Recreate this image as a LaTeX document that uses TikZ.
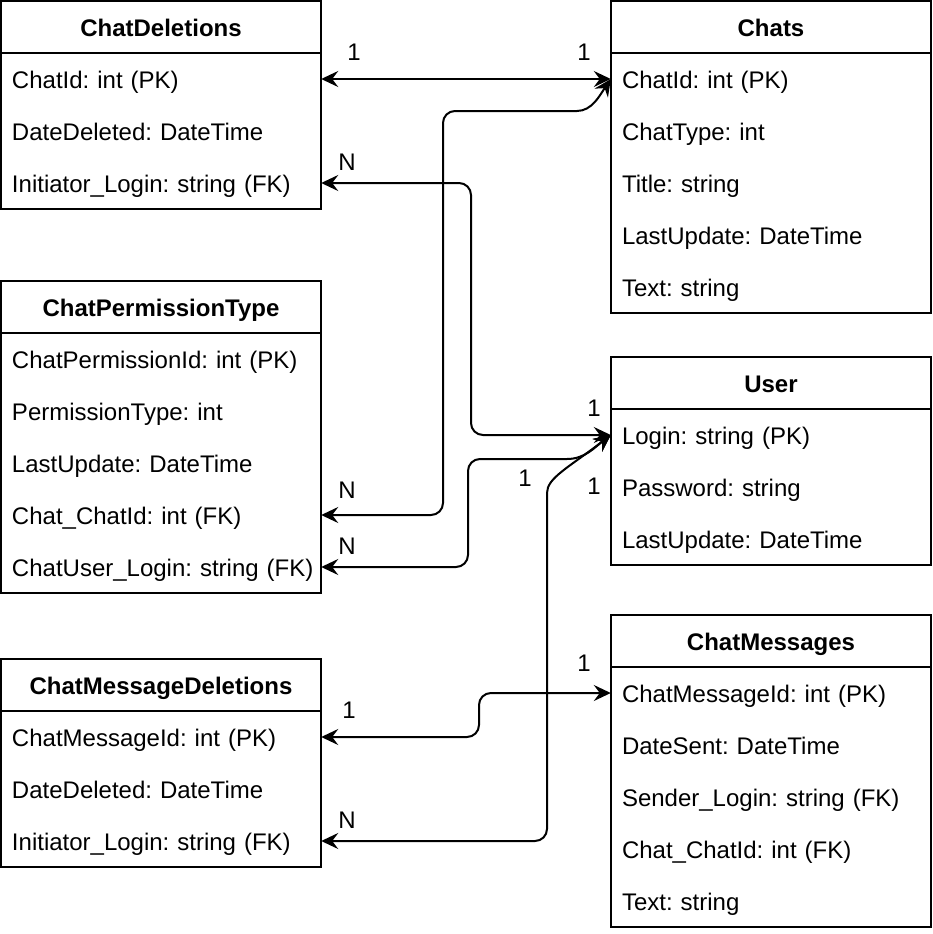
\documentclass[tikz,border=0pt]{standalone}
\usepackage{fontspec}
\setmainfont{Liberation Sans}
\usetikzlibrary{arrows.meta}
\frenchspacing
\begin{document}
\begin{tikzpicture}[x=1pt,y=-1pt,
  tbl/.style={draw, line width=2pt, fill=white},
  sep/.style={line width=2pt},
  hdr/.style={font=\fontsize{24}{28}\selectfont\bfseries, inner sep=0pt, text height=23pt, text depth=4pt},
  fld/.style={font=\fontsize{24}{28}\selectfont, minimum width=320pt, minimum height=52pt, inner xsep=11pt, inner ysep=0pt, text width=298pt, align=left, text height=23pt, text depth=4pt},
  lbl/.style={font=\fontsize{24}{28}\selectfont, inner sep=0pt},
  tip/.tip={Stealth[length=17pt,width=16pt,inset=6pt]},
  conn/.style={line width=2pt, rounded corners=12pt, tip-tip}
]
\useasboundingbox (0,0) rectangle (932,934);

% ChatDeletions
\draw[tbl] (1,1) rectangle (321,209);
\draw[sep] (1,53) -- (321,53);
\node[hdr] (cdh) at (161,27) {ChatDeletions};
\node[fld] (cd1) at (161,79) {ChatId: int (PK)};
\node[fld] (cd2) at (161,131) {DateDeleted: DateTime};
\node[fld] (cd3) at (161,183) {Initiator\_Login: string (FK)};

% Chats
\draw[tbl] (611,1) rectangle (931,313);
\draw[sep] (611,53) -- (931,53);
\node[hdr] (chh) at (771,27) {Chats};
\node[fld] (ch1) at (771,79) {ChatId: int (PK)};
\node[fld] (ch2) at (771,131) {ChatType: int};
\node[fld] (ch3) at (771,183) {Title: string};
\node[fld] (ch4) at (771,235) {LastUpdate: DateTime};
\node[fld] (ch5) at (771,287) {Text: string};

% ChatPermissionType
\draw[tbl] (1,281) rectangle (321,593);
\draw[sep] (1,333) -- (321,333);
\node[hdr] (cph) at (161,307) {ChatPermissionType};
\node[fld] (cp1) at (161,359) {ChatPermissionId: int (PK)};
\node[fld] (cp2) at (161,411) {PermissionType: int};
\node[fld] (cp3) at (161,463) {LastUpdate: DateTime};
\node[fld] (cp4) at (161,515) {Chat\_ChatId: int (FK)};
\node[fld] (cp5) at (161,567) {\mbox{ChatUser\_Login: string (FK)}};

% User
\draw[tbl] (611,357) rectangle (931,565);
\draw[sep] (611,409) -- (931,409);
\node[hdr] (ush) at (771,383) {User};
\node[fld] (us1) at (771,435) {Login: string (PK)};
\node[fld] (us2) at (771,487) {Password: string};
\node[fld] (us3) at (771,539) {LastUpdate: DateTime};

% ChatMessageDeletions
\draw[tbl] (1,659) rectangle (321,867);
\draw[sep] (1,711) -- (321,711);
\node[hdr] (cmdh) at (161,685) {ChatMessageDeletions};
\node[fld] (cmd1) at (161,737) {ChatMessageId: int (PK)};
\node[fld] (cmd2) at (161,789) {DateDeleted: DateTime};
\node[fld] (cmd3) at (161,841) {Initiator\_Login: string (FK)};

% ChatMessages
\draw[tbl] (611,615) rectangle (931,927);
\draw[sep] (611,667) -- (931,667);
\node[hdr] (cmh) at (771,641) {ChatMessages};
\node[fld] (cm1) at (771,693) {ChatMessageId: int (PK)};
\node[fld] (cm2) at (771,745) {DateSent: DateTime};
\node[fld] (cm3) at (771,797) {Sender\_Login: string (FK)};
\node[fld] (cm4) at (771,849) {Chat\_ChatId: int (FK)};
\node[fld] (cm5) at (771,901) {Text: string};

% connectors
\draw[conn] (cd1.east) -- (ch1.west);
\draw[conn] (cp4.east) -| (443,111) -- (565,111) .. controls (592,111) and (600,95) .. (ch1.west);
\draw[conn] (cd3.east) -| (471,435) -- (us1.west);
\draw[conn] (cp5.east) -| (468,459) -- (555,459) .. controls (585,459) and (595,447) .. (us1.west);
\draw[conn] (cmd3.east) -| (547,505) .. controls (547,478) and (568,468) .. (us1.west);
\draw[conn] (cmd1.east) -| (479,693) -- (cm1.west);

% labels
\node[lbl] (l1) at (354,52) {1};
\node[lbl] (l2) at (584,52) {1};
\node[lbl] (l3) at (347,162) {N};
\node[lbl] (l4) at (347,490) {N};
\node[lbl] (l5) at (347,546) {N};
\node[lbl] (l6) at (594,408) {1};
\node[lbl] (l7) at (525,478) {1};
\node[lbl] (l8) at (594,486) {1};
\node[lbl] (l9) at (349,710) {1};
\node[lbl] (l10) at (584,663) {1};
\node[lbl] (l11) at (347,820) {N};
\end{tikzpicture}
\end{document}
